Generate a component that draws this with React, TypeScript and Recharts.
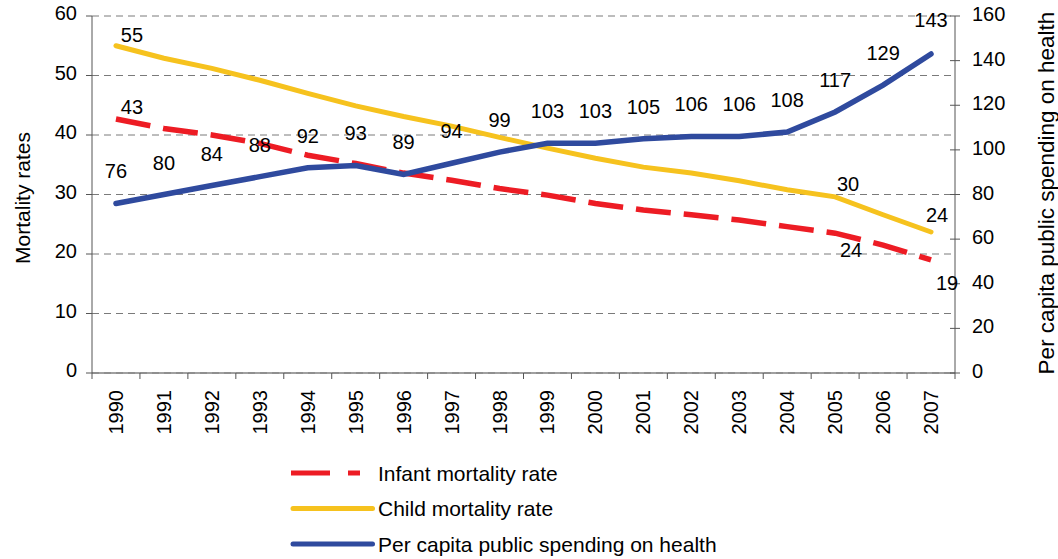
import React from 'react';
import { LineChart, Line, XAxis, YAxis, CartesianGrid, LabelList } from 'recharts';

// years on the category axis
const years = [
  '1990', '1991', '1992', '1993', '1994', '1995', '1996', '1997', '1998',
  '1999', '2000', '2001', '2002', '2003', '2004', '2005', '2006', '2007',
];

// mortality rates (left axis)
const infantMortality = [
  42.7, 41.1, 40.0, 38.6, 36.6, 35.2, 33.6, 32.4, 31.0,
  29.9, 28.5, 27.4, 26.6, 25.7, 24.6, 23.5, 21.5, 19.0,
];
const childMortality = [
  55.0, 52.9, 51.2, 49.2, 47.0, 44.9, 43.1, 41.5, 39.6,
  37.8, 36.1, 34.6, 33.6, 32.3, 30.8, 29.6, 26.6, 23.7,
];

// per capita public spending on health (right axis)
const healthSpending = [
  76, 80, 84, 88, 92, 93, 89, 94, 99,
  103, 103, 105, 106, 106, 108, 117, 129, 143,
];

const leftTicks = [0, 10, 20, 30, 40, 50, 60];
const rightTicks = [0, 20, 40, 60, 80, 100, 120, 140, 160];

// which points carry a value label
const infantLabelled = [0, 15, 17];
const childLabelled = [0, 15, 17];

const data = years.map((year, i) => ({
  year,
  infant: infantMortality[i],
  child: childMortality[i],
  spending: healthSpending[i],
}));

// body margin is removed, so the chart fills the whole page
const W = 1058;
const H = 559;
const FONT = '"Liberation Sans", Arial, Helvetica, sans-serif';
const PLOT_LEFT = 92;
const PLOT_RIGHT = 955;
const BAND = (PLOT_RIGHT - PLOT_LEFT) / years.length;
const AXIS = '#555';

const RED = '#ED1C24';
const YELLOW = '#F6C21E';
const BLUE = '#2F4A9E';

const XTick = (props: any) => {
  const { x, y, payload, index } = props;
  const left = x - BAND / 2;
  const ty = y + 17;
  return (
    <g>
      <line x1={left} y1={y} x2={left} y2={y + 6} stroke={AXIS} />
      {index === years.length - 1 && (
        <line x1={x + BAND / 2} y1={y} x2={x + BAND / 2} y2={y + 6} stroke={AXIS} />
      )}
      <text
        x={x}
        y={ty}
        transform={`rotate(-90, ${x}, ${ty})`}
        textAnchor="end"
        dominantBaseline="central"
        fontSize={20}
        fontFamily={FONT}
        fill="#000"
      >
        {payload.value}
      </text>
    </g>
  );
};

const LeftTick = (props: any) => {
  const { x, y, payload } = props;
  return (
    <g>
      <line x1={x - 6} y1={y} x2={x} y2={y} stroke={AXIS} />
      <text x={x - 15} y={y - 3} textAnchor="end" dominantBaseline="central" fontSize={20} fontFamily={FONT} fill="#000">
        {payload.value}
      </text>
    </g>
  );
};

const RightTick = (props: any) => {
  const { x, y, payload } = props;
  return (
    <g>
      <line x1={x - 5} y1={y} x2={x + 5} y2={y} stroke={AXIS} />
      <text x={x + 17} y={y - 2} textAnchor="start" dominantBaseline="central" fontSize={20} fontFamily={FONT} fill="#000">
        {payload.value}
      </text>
    </g>
  );
};

const makeLabel = (shown: number[], offsets: Record<number, [number, number]>) => (props: any) => {
  const { x, y, value, index } = props;
  if (!shown.includes(index)) return null;
  const [dx, dy] = offsets[index] || [0, -32];
  return (
    <text
      x={x + dx}
      y={y + dy}
      textAnchor="middle"
      dominantBaseline="central"
      fontSize={20}
      fontFamily={FONT}
      fill="#000"
    >
      {Math.round(value)}
    </text>
  );
};

const infantLabel = makeLabel(infantLabelled, { 0: [16, -12], 15: [16, 17], 17: [16, 23] });
const childLabel = makeLabel(childLabelled, { 0: [16, -11], 15: [13, -13], 17: [6, -17] });
const spendingLabel = makeLabel(healthSpending.map((_, i) => i), { 17: [0, -34] });

const legendItems = [
  { name: 'Infant mortality rate', color: RED, dash: '39 18', end: 360 },
  { name: 'Child mortality rate', color: YELLOW, dash: undefined, end: 375 },
  { name: 'Per capita public spending on health', color: BLUE, dash: undefined, end: 375 },
];

export default function App() {
  return (
    <div style={{ position: 'relative', width: W, height: H, fontFamily: FONT }}>
      <style>{'body { margin: 0; } .recharts-surface { overflow: visible; }'}</style>
      <LineChart
        width={W}
        height={H}
        data={data}
        margin={{ top: 16, right: 43, bottom: 126, left: 32 }}
      >
        <CartesianGrid
          yAxisId="left"
          vertical={false}
          stroke="#7a7a7a"
          strokeDasharray="7 5"
        />
        <XAxis
          dataKey="year"
          height={60}
          interval={0}
          padding={{ left: BAND / 2, right: BAND / 2 }}
          tickSize={0}
          tickMargin={0}
          tickLine={false}
          axisLine={{ stroke: '#808080', strokeWidth: 1.5 }}
          tick={<XTick />}
        />
        <YAxis
          yAxisId="left"
          orientation="left"
          width={60}
          domain={[0, 60]}
          ticks={leftTicks}
          tickSize={0}
          tickMargin={0}
          tickLine={false}
          axisLine={{ stroke: AXIS }}
          tick={<LeftTick />}
        />
        <YAxis
          yAxisId="right"
          orientation="right"
          width={60}
          domain={[0, 160]}
          ticks={rightTicks}
          tickSize={0}
          tickMargin={0}
          tickLine={false}
          axisLine={{ stroke: AXIS }}
          tick={<RightTick />}
        />
        <Line
          yAxisId="left"
          type="linear"
          dataKey="child"
          name="Child mortality rate"
          stroke={YELLOW}
          strokeWidth={5}
          strokeLinecap="round"
          dot={false}
          isAnimationActive={false}
        >
          <LabelList dataKey="child" content={childLabel} />
        </Line>
        <Line
          yAxisId="left"
          type="linear"
          dataKey="infant"
          name="Infant mortality rate"
          stroke={RED}
          strokeWidth={5.5}
          strokeDasharray="35 13"
          dot={false}
          isAnimationActive={false}
        >
          <LabelList dataKey="infant" content={infantLabel} />
        </Line>
        <Line
          yAxisId="right"
          type="linear"
          dataKey="spending"
          name="Per capita public spending on health"
          stroke={BLUE}
          strokeWidth={5.5}
          strokeLinecap="round"
          dot={false}
          isAnimationActive={false}
        >
          <LabelList dataKey="spending" content={spendingLabel} />
        </Line>
      </LineChart>
      <svg
        width={W}
        height={H}
        style={{ position: 'absolute', left: 0, top: 0, pointerEvents: 'none', overflow: 'visible' }}
      >
        <text
          x={22}
          y={198}
          transform="rotate(-90, 22, 198)"
          textAnchor="middle"
          dominantBaseline="central"
          fontSize={21}
          fontFamily={FONT}
          fill="#000"
        >
          Mortality rates
        </text>
        <text
          x={1046}
          y={193}
          transform="rotate(-90, 1046, 193)"
          textAnchor="middle"
          dominantBaseline="central"
          fontSize={22.5}
          fontFamily={FONT}
          fill="#000"
        >
          Per capita public spending on health
        </text>
        {legendItems.map((item, i) => {
          const y = 473 + i * 35.5;
          const round = !item.dash;
          return (
            <g key={item.name}>
              <line
                x1={round ? 293 : 291}
                y1={y}
                x2={round ? item.end - 2.5 : item.end}
                y2={y}
                stroke={item.color}
                strokeWidth={5}
                strokeDasharray={item.dash}
                strokeLinecap={round ? 'round' : 'butt'}
              />
              <text x={378} y={y} dominantBaseline="central" fontSize={21} fontFamily={FONT} fill="#000">
                {item.name}
              </text>
            </g>
          );
        })}
      </svg>
    </div>
  );
}
